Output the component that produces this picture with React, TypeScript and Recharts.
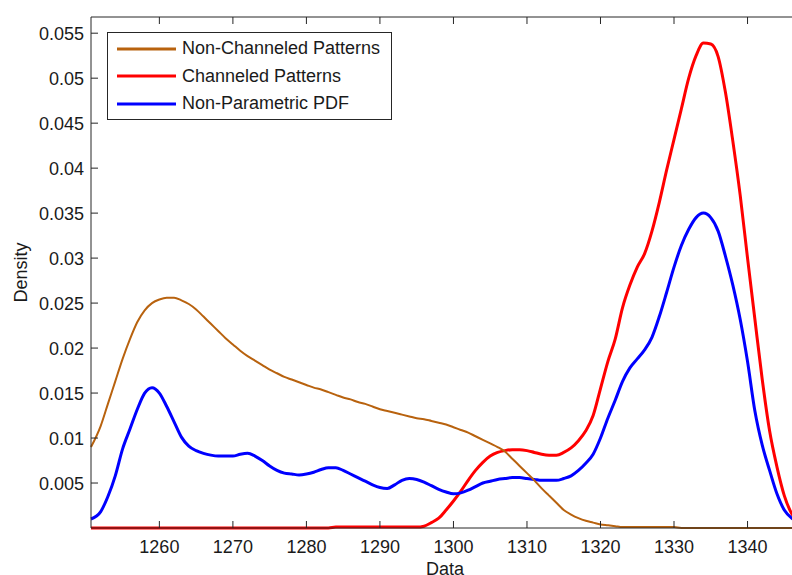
import React from 'react';
import { LineChart, Line, XAxis, YAxis, Legend, Label } from 'recharts';

// x positions of the samples (first one sits on the left edge of the axes)
const xs = [
  1250.7, 1252, 1253, 1254, 1255, 1256, 1257, 1258, 1259, 1260,
  1261, 1262, 1263, 1264, 1265, 1266, 1267, 1268, 1269, 1270,
  1271, 1272, 1273, 1274, 1275, 1276, 1277, 1278, 1279, 1280,
  1281, 1282, 1283, 1284, 1285, 1286, 1287, 1288, 1289, 1290,
  1291, 1292, 1293, 1294, 1295, 1296, 1297, 1298, 1299, 1300,
  1301, 1302, 1303, 1304, 1305, 1306, 1307, 1308, 1309, 1310,
  1311, 1312, 1313, 1314, 1315, 1316, 1317, 1318, 1319, 1320,
  1321, 1322, 1323, 1324, 1325, 1326, 1327, 1328, 1329, 1330,
  1331, 1332, 1333, 1334, 1335, 1336, 1337, 1338, 1339, 1340,
  1341, 1342, 1343, 1344, 1345, 1346, 1347,
];

const nonChanneled = [
  0.009, 0.0113, 0.0138, 0.0163, 0.0188, 0.021, 0.0229, 0.0242, 0.025, 0.0254,
  0.0256, 0.0256, 0.0253, 0.0249, 0.0243, 0.0235, 0.0227, 0.0219, 0.0211, 0.0204,
  0.0197, 0.0191, 0.0186, 0.0181, 0.0176, 0.0172, 0.0168, 0.0165, 0.0162, 0.0159,
  0.0156, 0.0154, 0.0151, 0.0148, 0.0145, 0.0143, 0.014, 0.0138, 0.0135, 0.0132,
  0.013, 0.0128, 0.0126, 0.0124, 0.0122, 0.0121, 0.0119, 0.0117, 0.0115, 0.0112,
  0.0109, 0.0106, 0.0102, 0.0098, 0.0094, 0.009, 0.0085, 0.0077, 0.0069, 0.0061,
  0.0053, 0.0044, 0.0036, 0.0028, 0.002, 0.0015, 0.0011, 0.0008, 0.0006, 0.0004,
  0.0003, 0.0002, 0.0001, 0.0001, 0.0001, 0.0001, 0.0001, 0.0001, 0.0001, 0.0001,
  0, 0, 0, 0, 0, 0, 0, 0, 0, 0,
  0, 0, 0, 0, 0, 0, 0,
];

const channeled = [
  0, 0, 0, 0, 0, 0, 0, 0, 0, 0,
  0, 0, 0, 0, 0, 0, 0, 0, 0, 0,
  0, 0, 0, 0, 0, 0, 0, 0, 0, 0,
  0, 0, 0, 0.0001, 0.0001, 0.0001, 0.0001, 0.0001, 0.0001, 0.0001,
  0.0001, 0.0001, 0.0001, 0.0001, 0.0001, 0.0002, 0.0006, 0.0011, 0.002, 0.003,
  0.0041, 0.0053, 0.0064, 0.0073, 0.008, 0.0084, 0.0086, 0.0087, 0.0087, 0.0086,
  0.0084, 0.0082, 0.0081, 0.0081, 0.0084, 0.0089, 0.0097, 0.0108, 0.0125, 0.0155,
  0.0185, 0.021, 0.0245, 0.027, 0.029, 0.0305, 0.033, 0.0362, 0.0398, 0.0432,
  0.0466, 0.05, 0.0525, 0.0539, 0.0538, 0.0524, 0.0484, 0.043, 0.037, 0.03,
  0.0232, 0.0165, 0.0108, 0.0068, 0.0036, 0.0016, 0.0006,
];

const nonParametric = [
  0.001, 0.0018, 0.0035, 0.0058, 0.0088, 0.011, 0.0132, 0.015, 0.0156, 0.015,
  0.0135, 0.0118, 0.0101, 0.0091, 0.0086, 0.0083, 0.0081, 0.008, 0.008, 0.008,
  0.0082, 0.0083, 0.008, 0.0075, 0.0069, 0.0064, 0.0061, 0.006, 0.0059, 0.006,
  0.0062, 0.0065, 0.0067, 0.0067, 0.0064, 0.006, 0.0056, 0.0052, 0.0048, 0.0045,
  0.0044, 0.0048, 0.0053, 0.0055, 0.0054, 0.0051, 0.0047, 0.0043, 0.004, 0.0038,
  0.0039, 0.0042, 0.0046, 0.005, 0.0052, 0.0054, 0.0055, 0.0056, 0.0056, 0.0055,
  0.0054, 0.0053, 0.0053, 0.0053, 0.0055, 0.0058, 0.0064, 0.0072, 0.0082, 0.01,
  0.0122, 0.0142, 0.0163, 0.0178, 0.0188, 0.0198, 0.0212, 0.0235, 0.0262, 0.029,
  0.0314, 0.0332, 0.0345, 0.035, 0.0345, 0.033, 0.0302, 0.027, 0.0232, 0.0185,
  0.013, 0.0092, 0.0064, 0.0038, 0.002, 0.0011, 0.0006,
];

const xTicks = [1260, 1270, 1280, 1290, 1300, 1310, 1320, 1330, 1340];
const yTicks = [0.005, 0.01, 0.015, 0.02, 0.025, 0.03, 0.035, 0.04, 0.045, 0.05, 0.055];
const legendOrder = ['Non-Channeled Patterns', 'Channeled Patterns', 'Non-Parametric PDF'];

const data = xs.map((x, i) => ({
  x,
  nonChanneled: nonChanneled[i],
  channeled: channeled[i],
  nonParametric: nonParametric[i],
}));

const FONT = '"Liberation Sans", Arial, Helvetica, sans-serif';
const AXIS = '#262626';
const TEXT = '#1a1a1a';
const BROWN = '#B8620E';

const BottomTick = (props: any) => {
  const { x, y, payload } = props;
  return (
    <g>
      <line x1={x} y1={y} x2={x} y2={y - 7} stroke={AXIS} />
      <text x={x} y={y + 25} textAnchor="middle" fontSize={18} fontFamily={FONT} fill={TEXT}>
        {payload.value}
      </text>
    </g>
  );
};

const TopTick = (props: any) => {
  const { x, y } = props;
  return <line x1={x} y1={y} x2={x} y2={y + 7} stroke={AXIS} />;
};

const LeftTick = (props: any) => {
  const { x, y, payload } = props;
  return (
    <g>
      <line x1={x} y1={y} x2={x + 7} y2={y} stroke={AXIS} />
      <text x={x - 7} y={y + 6.5} textAnchor="end" fontSize={18} fontFamily={FONT} fill={TEXT}>
        {Number(payload.value.toFixed(3)).toString()}
      </text>
    </g>
  );
};

const LegendBox = (props: any) => {
  const items = [...(props.payload || [])].sort(
    (a: any, b: any) => legendOrder.indexOf(a.value) - legendOrder.indexOf(b.value)
  );
  return (
    <div
      style={{
        border: `1px solid ${AXIS}`,
        background: '#fff',
        width: 283,
        height: 84,
        boxSizing: 'content-box',
        fontFamily: FONT,
        fontSize: 18,
        color: TEXT,
        paddingTop: 2,
      }}
    >
      {items.map((it: any) => (
        <div key={it.value} style={{ display: 'flex', alignItems: 'center', height: 27.5, lineHeight: '27.5px' }}>
          <svg width={74} height={6} style={{ display: 'block' }}>
            <line x1={9} y1={3} x2={68} y2={3} stroke={it.color} strokeWidth={3} />
          </svg>
          <span>{it.value}</span>
        </div>
      ))}
    </div>
  );
};

export default function App() {
  return (
    <div style={{ position: 'absolute', left: 0, top: 0, width: 792, height: 575, overflow: 'hidden', background: '#fff' }}>
      <LineChart width={805} height={575} data={data} margin={{ top: 0, right: 6, bottom: 0, left: 0 }}>
        <XAxis
          dataKey="x"
          type="number"
          domain={[1250.7, 1347]}
          ticks={xTicks}
          height={47}
          tickSize={0}
          tickMargin={0}
          tickLine={false}
          axisLine={{ stroke: AXIS }}
          tick={<BottomTick />}
          interval={0}
        >
          <Label
            content={(p: any) => (
              <text
                x={p.viewBox.x + p.viewBox.width / 2}
                y={p.viewBox.y + 47}
                textAnchor="middle"
                fontSize={18}
                fontFamily={FONT}
                fill={TEXT}
              >
                Data
              </text>
            )}
          />
        </XAxis>
        <XAxis
          xAxisId="top"
          orientation="top"
          dataKey="x"
          type="number"
          domain={[1250.7, 1347]}
          ticks={xTicks}
          height={17}
          tickSize={0}
          tickMargin={0}
          tickLine={false}
          axisLine={{ stroke: AXIS }}
          tick={<TopTick />}
          interval={0}
        />
        <YAxis
          type="number"
          domain={[0, 0.0568]}
          ticks={yTicks}
          width={91}
          tickSize={0}
          tickMargin={0}
          tickLine={false}
          axisLine={{ stroke: AXIS }}
          tick={<LeftTick />}
          interval={0}
        >
          <Label
            content={(p: any) => {
              const cx = p.viewBox.x + 27;
              const cy = p.viewBox.y + p.viewBox.height / 2;
              return (
                <text
                  x={cx}
                  y={cy}
                  transform={`rotate(-90, ${cx}, ${cy})`}
                  textAnchor="middle"
                  fontSize={18}
                  fontFamily={FONT}
                  fill={TEXT}
                >
                  Density
                </text>
              );
            }}
          />
        </YAxis>
        <Legend
          layout="vertical"
          align="center"
          verticalAlign="middle"
          content={<LegendBox />}
          wrapperStyle={{ position: 'absolute', left: 107, top: 32, width: 'auto', height: 'auto' }}
        />
        <Line
          type="monotone"
          dataKey="channeled"
          name="Channeled Patterns"
          stroke="#FF0000"
          strokeWidth={3}
          dot={false}
          activeDot={false}
          isAnimationActive={false}
        />
        <Line
          type="monotone"
          dataKey="nonParametric"
          name="Non-Parametric PDF"
          stroke="#0000FF"
          strokeWidth={3}
          dot={false}
          activeDot={false}
          isAnimationActive={false}
        />
        <Line
          type="monotone"
          dataKey="nonChanneled"
          name="Non-Channeled Patterns"
          stroke={BROWN}
          strokeWidth={2}
          dot={false}
          activeDot={false}
          isAnimationActive={false}
        />
      </LineChart>
    </div>
  );
}
